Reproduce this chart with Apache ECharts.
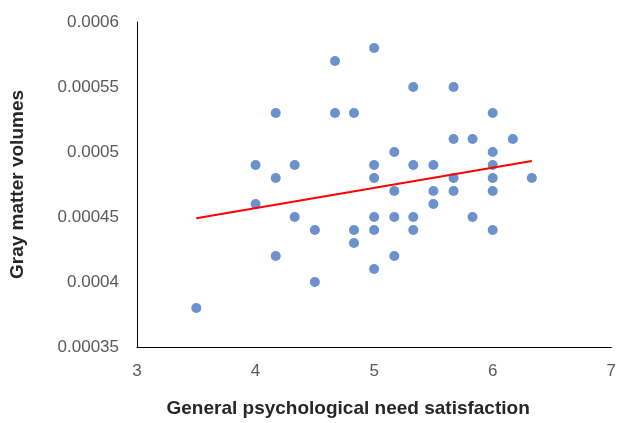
<!DOCTYPE html>
<html>
<head>
<meta charset="utf-8">
<script src="https://cdn.jsdelivr.net/npm/echarts@6/dist/echarts.min.js"></script>
<style>
  html, body { margin: 0; padding: 0; background: #fff; }
  #main { width: 619px; height: 423px; }
</style>
</head>
<body>
<div id="main"></div>
<script>
// satisfaction scores (x) and gray matter volumes (y)
var satX = [3.5, 4, 4, 4.17, 4.17, 4.17, 4.33, 4.33, 4.5, 4.5,
            4.67, 4.67, 4.83, 4.83, 4.83,
            5, 5, 5, 5, 5, 5,
            5.17, 5.17, 5.17, 5.17,
            5.33, 5.33, 5.33, 5.33,
            5.5, 5.5, 5.5,
            5.67, 5.67, 5.67, 5.67,
            5.83, 5.83,
            6, 6, 6, 6, 6, 6,
            6.17, 6.33];
var volY = [0.00038, 0.00049, 0.00046, 0.00053, 0.00048, 0.00042, 0.00049, 0.00045, 0.00044, 0.00040,
            0.00057, 0.00053, 0.00053, 0.00044, 0.00043,
            0.00058, 0.00049, 0.00048, 0.00045, 0.00044, 0.00041,
            0.00050, 0.00047, 0.00045, 0.00042,
            0.00055, 0.00049, 0.00045, 0.00044,
            0.00049, 0.00047, 0.00046,
            0.00055, 0.00051, 0.00048, 0.00047,
            0.00051, 0.00045,
            0.00053, 0.00050, 0.00049, 0.00048, 0.00047, 0.00044,
            0.00051, 0.00048];
// fitted line end points as drawn
var trendX = [3.5, 6.33];
var trendY = [0.000449, 0.000493];

var points = satX.map(function (x, i) { return [x, volY[i]]; });
var trend = trendX.map(function (x, i) { return [x, trendY[i]]; });

var chart = echarts.init(document.getElementById('main'));
var labelFont = 'Liberation Sans';
chart.setOption({
  animation: false,
  grid: { left: 135, right: 4, top: 22, bottom: 75 },
  xAxis: {
    type: 'value',
    min: 3, max: 7, interval: 1,
    name: 'General psychological need satisfaction',
    nameLocation: 'middle',
    nameGap: 52,
    // title sits a bit left of the plot centre in the original
    nameTextStyle: { fontFamily: labelFont, fontSize: 19, fontWeight: 'bold', color: '#262626', padding: [0, 52, 0, 0] },
    axisLine: { show: true, lineStyle: { color: '#000', width: 1 } },
    axisTick: { show: false },
    splitLine: { show: false },
    axisLabel: { fontFamily: labelFont, fontSize: 17, color: '#595959', margin: 16 }
  },
  yAxis: {
    type: 'value',
    min: 0.00035, max: 0.0006, interval: 0.00005,
    name: 'Gray matter volumes',
    nameLocation: 'middle',
    nameGap: 110,
    nameTextStyle: { fontFamily: labelFont, fontSize: 19, fontWeight: 'bold', color: '#262626' },
    axisLine: { show: true, lineStyle: { color: '#000', width: 1 } },
    axisTick: { show: false },
    splitLine: { show: false },
    axisLabel: {
      fontFamily: labelFont, fontSize: 17, color: '#595959', margin: 18,
      formatter: function (v) { return String(+v.toFixed(5)); }
    }
  },
  series: [
    {
      type: 'scatter',
      data: points,
      symbol: 'circle',
      symbolSize: 10,
      itemStyle: { color: '#4677c1' },
      z: 2
    },
    {
      type: 'line',
      data: trend,
      symbol: 'none',
      lineStyle: { color: '#ff0000', width: 2 },
      z: 3
    }
  ]
});
</script>
</body>
</html>
